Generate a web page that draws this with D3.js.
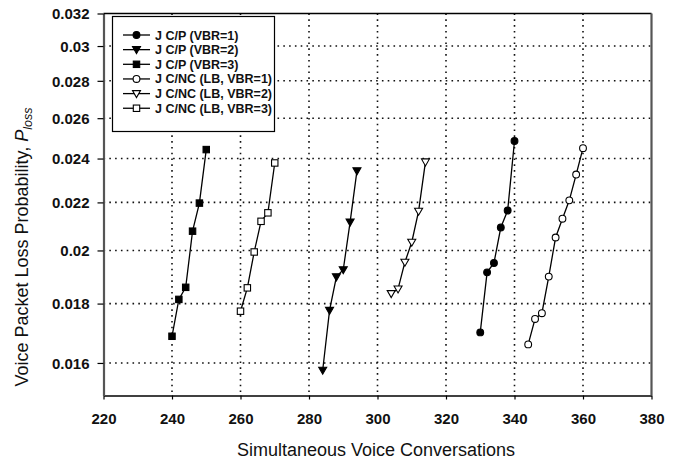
<!DOCTYPE html>
<html>
<head>
<meta charset="utf-8">
<script src="https://cdn.jsdelivr.net/npm/d3@7"></script>
<style>
  body { margin: 0; background: #fff; }
  text { font-family: Arial, "Liberation Sans", sans-serif; fill: #111; }
</style>
</head>
<body>
<div id="chart"></div>
<script>
// voice conversations (x) and packet loss probability (y)
var xCP1 = [330, 332, 334, 336, 338, 340];
var yCP1 = [0.0170, 0.01915, 0.01951, 0.02093, 0.02165, 0.02485];
var xCP2 = [284, 286, 288, 290, 292, 294];
var yCP2 = [0.01577, 0.01776, 0.01898, 0.01925, 0.02116, 0.02342];
var xCP3 = [240, 242, 244, 246, 248, 250];
var yCP3 = [0.01687, 0.01815, 0.01859, 0.02078, 0.02197, 0.02443];
var xNC1 = [344, 346, 348, 350, 352, 354, 356, 358, 360];
var yNC1 = [0.0166, 0.01746, 0.01766, 0.01899, 0.02052, 0.0213, 0.02209, 0.02325, 0.0245];
var xNC2 = [304, 306, 308, 310, 312, 314];
var yNC2 = [0.01836, 0.01853, 0.01954, 0.02033, 0.02162, 0.02384];
var xNC3 = [260, 262, 264, 266, 268, 270];
var yNC3 = [0.01773, 0.01857, 0.01994, 0.02119, 0.02155, 0.02379];

var seriesNames = ["J C/P (VBR=1)", "J C/P (VBR=2)", "J C/P (VBR=3)",
                   "J C/NC (LB, VBR=1)", "J C/NC (LB, VBR=2)", "J C/NC (LB, VBR=3)"];
var xTicks = [220, 240, 260, 280, 300, 320, 340, 360, 380];
var yTicks = [0.016, 0.018, 0.02, 0.022, 0.024, 0.026, 0.028, 0.03, 0.032];

var series = [
    {name: seriesNames[0], xs: xCP1, ys: yCP1, shape: "circle", filled: true},
    {name: seriesNames[1], xs: xCP2, ys: yCP2, shape: "triangle", filled: true},
    {name: seriesNames[2], xs: xCP3, ys: yCP3, shape: "square", filled: true},
    {name: seriesNames[3], xs: xNC1, ys: yNC1, shape: "circle", filled: false},
    {name: seriesNames[4], xs: xNC2, ys: yNC2, shape: "triangle", filled: false},
    {name: seriesNames[5], xs: xNC3, ys: yNC3, shape: "square", filled: false}
];

var W = 677, H = 462;
var pL = 103.5, pR = 651.5, pT = 13.5, pB = 395.5;

var svg = d3.select("#chart").append("svg").attr("width", W).attr("height", H);

var x = d3.scaleLinear().domain([220, 380]).range([pL, pR]);
var y = d3.scaleLog().domain([0.015, 0.032]).range([pB, pT]);

// dotted grid
svg.append("g").selectAll("line").data(xTicks.slice(1, -1)).enter().append("line")
    .attr("x1", function(d){ return x(d); }).attr("x2", function(d){ return x(d); })
    .attr("y1", pT).attr("y2", pB)
    .attr("stroke", "#111").attr("stroke-width", 1.6).attr("stroke-dasharray", "1.6,4.2");
svg.append("g").selectAll("line").data(yTicks.slice(0, -1)).enter().append("line")
    .attr("x1", pL).attr("x2", pR)
    .attr("y1", function(d){ return y(d); }).attr("y2", function(d){ return y(d); })
    .attr("stroke", "#111").attr("stroke-width", 1.6).attr("stroke-dasharray", "1.6,4.2");

// axes
var xAxis = svg.append("g").attr("transform", "translate(0," + pB + ")")
    .call(d3.axisBottom(x).tickValues(xTicks).tickSize(4).tickSizeOuter(0).tickFormat(function(d){ return d; }));
xAxis.select(".domain").attr("stroke", "#000").attr("stroke-width", 1.6);
xAxis.selectAll(".tick line").attr("stroke", "#000").attr("stroke-width", 1.2);
xAxis.selectAll(".tick text").attr("y", 28.5).attr("dy", 0)
    .style("font-size", "15px").style("font-weight", "bold").attr("fill", "#111");

var yAxis = svg.append("g").attr("transform", "translate(" + pL + ",0)")
    .call(d3.axisLeft(y).tickValues(yTicks).tickSize(6).tickSizeOuter(0)
        .tickFormat(function(d){ return String(+d.toFixed(3)); }));
yAxis.select(".domain").attr("stroke", "#555").attr("stroke-width", 2.2);
yAxis.selectAll(".tick line").attr("stroke", "#000").attr("stroke-width", 1.2);
yAxis.selectAll(".tick text").attr("x", -14).attr("dy", "0.36em")
    .style("font-size", "15px").style("font-weight", "bold").attr("fill", "#111");

// top and right frame
svg.append("line").attr("x1", pL).attr("x2", pR).attr("y1", pT).attr("y2", pT)
    .attr("stroke", "#000").attr("stroke-width", 1.3);
svg.append("line").attr("x1", pR).attr("x2", pR).attr("y1", pT).attr("y2", pB)
    .attr("stroke", "#555").attr("stroke-width", 2.2);

// axis titles
svg.append("text").attr("x", 376).attr("y", 456).attr("text-anchor", "middle")
    .style("font-size", "18px").text("Simultaneous Voice Conversations");

var yt = svg.append("text").attr("transform", "translate(28,247) rotate(-90)")
    .attr("text-anchor", "middle").style("font-size", "18px");
yt.append("tspan").text("Voice Packet Loss Probability, ");
yt.append("tspan").style("font-style", "italic").text("P");
yt.append("tspan").style("font-style", "italic").style("font-size", "12.5px").attr("dy", 4).text("loss");

function drawMarker(g, shape, filled, cx, cy){
    var fill = filled ? "#000" : "#fff";
    if(shape === "circle"){
        g.append("circle").attr("cx", cx).attr("cy", cy).attr("r", 3.4)
            .attr("fill", fill).attr("stroke", "#000").attr("stroke-width", 1.1);
    } else if(shape === "square"){
        g.append("rect").attr("x", cx - 3.2).attr("y", cy - 3.2).attr("width", 6.4).attr("height", 6.4)
            .attr("fill", fill).attr("stroke", "#000").attr("stroke-width", 1.1);
    } else {
        g.append("path")
            .attr("d", "M" + (cx - 4) + "," + (cy - 3) + "L" + (cx + 4) + "," + (cy - 3) + "L" + cx + "," + (cy + 4) + "Z")
            .attr("fill", fill).attr("stroke", "#000").attr("stroke-width", 1.1);
    }
}

var line = d3.line().x(function(d){ return x(d[0]); }).y(function(d){ return y(d[1]); });

series.forEach(function(s){
    var pts = d3.zip(s.xs, s.ys);
    var g = svg.append("g");
    g.append("path").datum(pts).attr("d", line)
        .attr("fill", "none").attr("stroke", "#000").attr("stroke-width", 1.3);
    pts.forEach(function(p){
        drawMarker(g, s.shape, s.filled, x(p[0]), y(p[1]));
    });
});

// legend
var lg = svg.append("g");
lg.append("rect").attr("x", 112.5).attr("y", 16.5).attr("width", 162).attr("height", 115)
    .attr("fill", "#fff").attr("stroke", "#000").attr("stroke-width", 1.2);
series.forEach(function(s, i){
    var ly = 35 + i * 14.65;
    lg.append("line").attr("x1", 123).attr("x2", 150).attr("y1", ly).attr("y2", ly)
        .attr("stroke", "#000").attr("stroke-width", 1.3);
    drawMarker(lg, s.shape, s.filled, 136.5, ly);
    lg.append("text").attr("x", 155).attr("y", ly).attr("dy", "0.36em")
        .style("font-size", "12.5px").style("font-weight", "bold").text(s.name);
});
</script>
</body>
</html>
